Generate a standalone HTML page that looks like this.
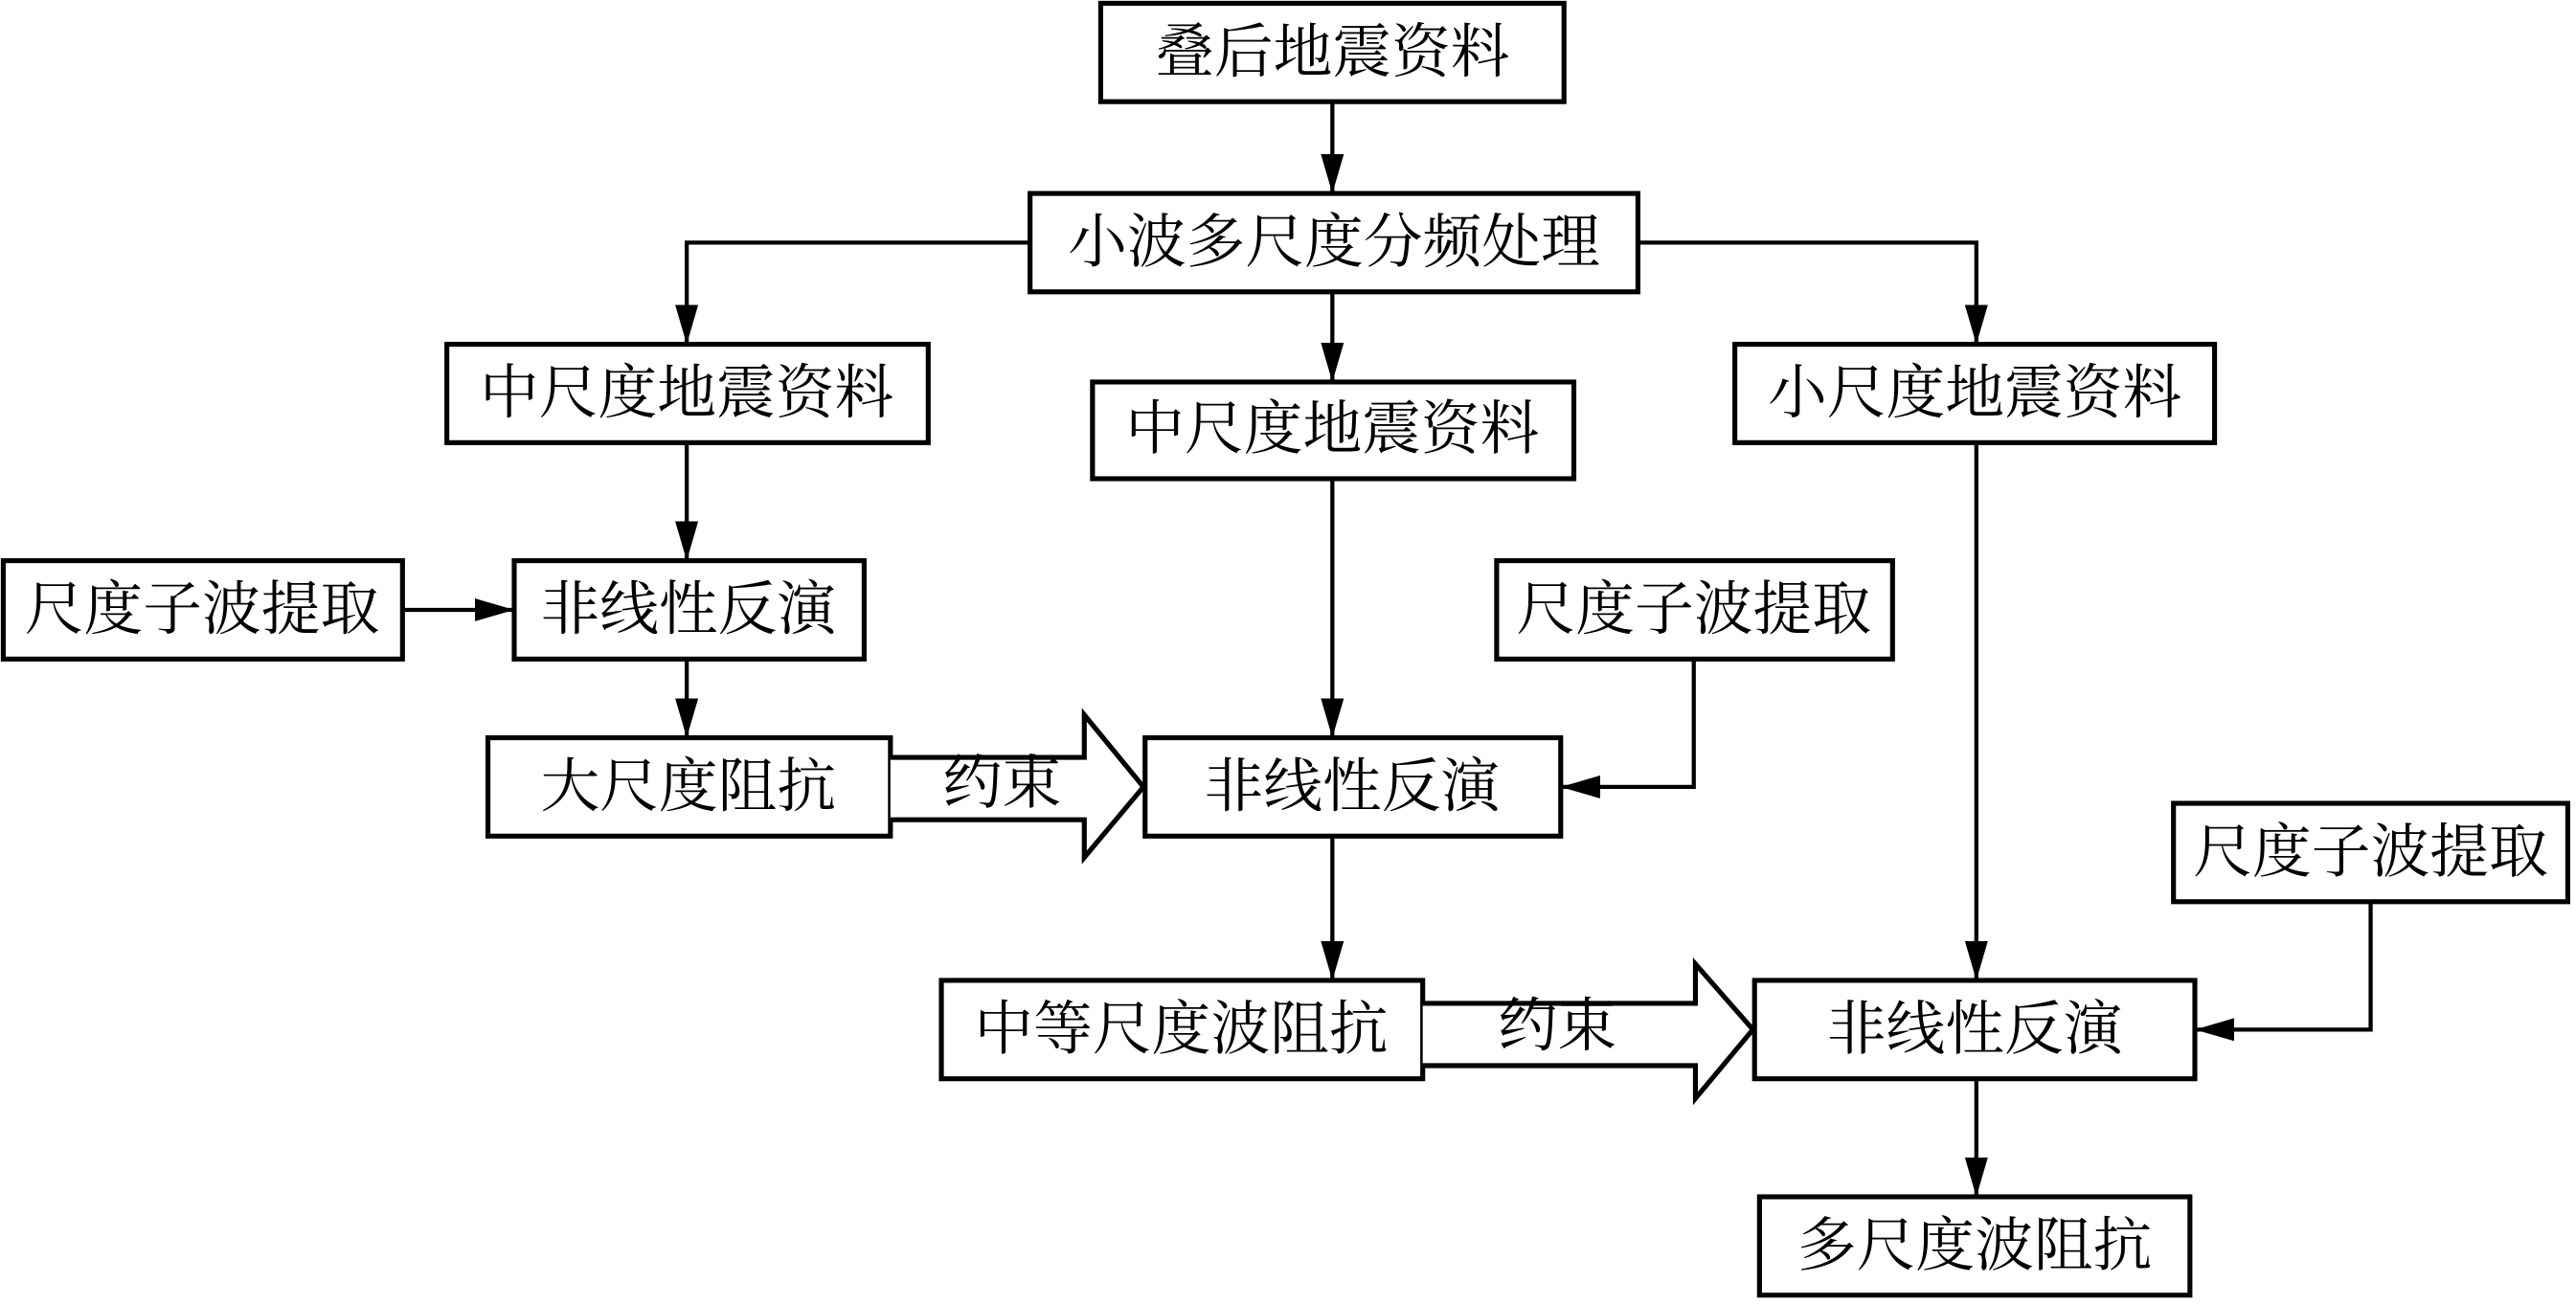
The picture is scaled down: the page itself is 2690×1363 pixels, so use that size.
<!DOCTYPE html>
<html><head><meta charset="utf-8"><style>
html,body{margin:0;padding:0;background:#fff;}
svg{display:block;}
text{font-family:"Liberation Serif","Noto Serif CJK SC",serif;font-size:36px;fill:#000;text-anchor:middle;dominant-baseline:central;}
</style></head><body>
<svg width="2690" height="1363" viewBox="0 0 1568 796" preserveAspectRatio="none" xmlns="http://www.w3.org/2000/svg">
<defs><marker id="a" markerWidth="10" markerHeight="10" refX="10" refY="5" orient="auto" markerUnits="userSpaceOnUse" viewBox="0 0 10 10"><path d="M0,0 L10,5 L0,10z" fill="#000"/></marker>
<marker id="b" viewBox="0 0 24 14" refX="24" refY="7" markerWidth="24" markerHeight="14" orient="auto" markerUnits="userSpaceOnUse"><path d="M0,0 L24,7 L0,14z" fill="#000"/></marker></defs>
<g fill="#fff" stroke="#000" stroke-width="3">
<rect x="670" y="2" width="282" height="60"/>
<rect x="627" y="118" width="370" height="60"/>
<rect x="272" y="210" width="293" height="60"/>
<rect x="665" y="233" width="293" height="59"/>
<rect x="1056" y="210" width="292" height="60"/>
<rect x="2" y="342" width="243" height="60"/>
<rect x="313" y="342" width="213" height="60"/>
<rect x="911" y="342" width="241" height="60"/>
<rect x="297" y="450" width="245" height="60"/>
<rect x="697" y="450" width="253" height="60"/>
<rect x="1323" y="490" width="240" height="60"/>
<rect x="573" y="598" width="293" height="60"/>
<rect x="1068" y="598" width="268" height="60"/>
<rect x="1071" y="730" width="262" height="60"/>
<path d="M542,462 H660 V436 L696,480 L660,523 V500 H542"/>
<path d="M866,612 H1032 V588 L1067,628 L1032,670 V650 H866"/>
</g>
<g fill="none" stroke="#000" stroke-width="2.5">
<path d="M811,62 V118" marker-end="url(#b)"/>
<path d="M627,148 H418 V210" marker-end="url(#b)"/>
<path d="M997,148 H1203 V210" marker-end="url(#b)"/>
<path d="M811,178 V233" marker-end="url(#b)"/>
<path d="M418,270 V342" marker-end="url(#b)"/>
<path d="M245,372 H313" marker-end="url(#b)"/>
<path d="M418,402 V450" marker-end="url(#b)"/>
<path d="M811,292 V450" marker-end="url(#b)"/>
<path d="M1031,402 V480 H950" marker-end="url(#b)"/>
<path d="M811,510 V598" marker-end="url(#b)"/>
<path d="M1203,270 V598" marker-end="url(#b)"/>
<path d="M1443,550 V628 H1336" marker-end="url(#b)"/>
<path d="M1203,658 V730" marker-end="url(#b)"/>
</g>
<text x="811" y="32">叠后地震资料</text>
<text x="812" y="148">小波多尺度分频处理</text>
<text x="418" y="240">中尺度地震资料</text>
<text x="811" y="262">中尺度地震资料</text>
<text x="1202" y="240">小尺度地震资料</text>
<text x="123" y="372">尺度子波提取</text>
<text x="419" y="372">非线性反演</text>
<text x="1031" y="372">尺度子波提取</text>
<text x="419" y="480">大尺度阻抗</text>
<text x="610" y="478">约束</text>
<text x="823" y="480">非线性反演</text>
<text x="1443" y="520">尺度子波提取</text>
<text x="719" y="628">中等尺度波阻抗</text>
<text x="948" y="626">约束</text>
<text x="1202" y="628">非线性反演</text>
<text x="1202" y="760">多尺度波阻抗</text>
</svg>
</body></html>
